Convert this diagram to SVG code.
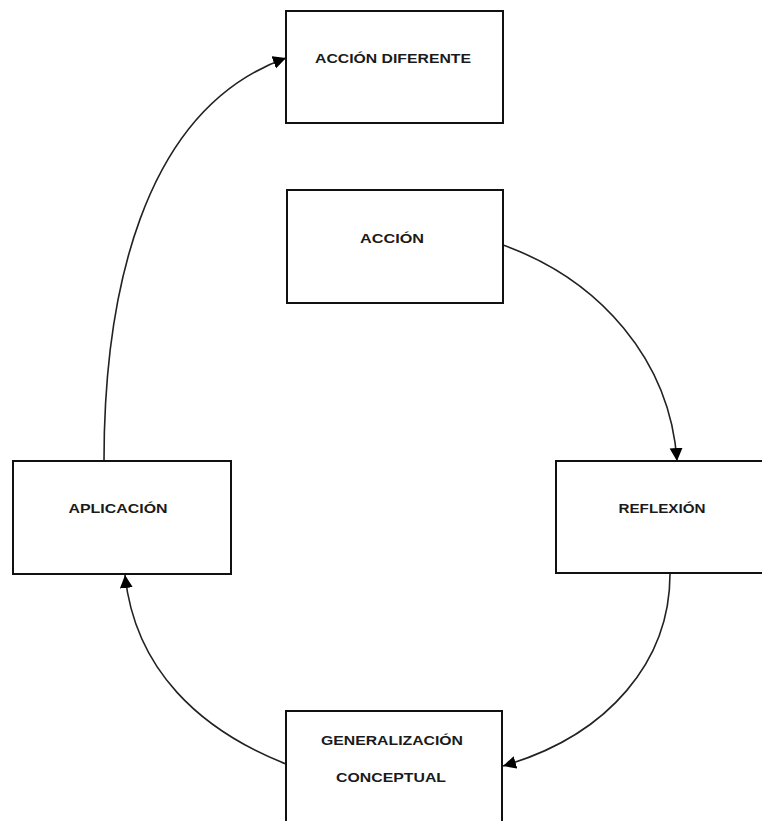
<svg xmlns="http://www.w3.org/2000/svg" width="762" height="821" viewBox="0 0 762 821">
<style>
.box{fill:#fff;stroke:#111;stroke-width:2}
.lbl{font-family:"Liberation Sans",Arial,sans-serif;font-weight:bold;font-size:13.5px;fill:#1a1a1a;text-anchor:middle}
.conn{fill:none;stroke:#222;stroke-width:1.6}
</style>
<defs>
<marker id="arr" markerUnits="userSpaceOnUse" markerWidth="15" markerHeight="15" refX="13" refY="6.5" orient="auto">
<path d="M0,0 L13,6.5 L0,13 Z" fill="#000"/>
</marker>
</defs>
<rect width="762" height="821" fill="#fff"/>
<g id="connectors">
<path class="conn" d="M503,245 C600,280 670,360 677,461" marker-end="url(#arr)"/>
<path class="conn" d="M670,574 C670,660 610,735 503,766" marker-end="url(#arr)"/>
<path class="conn" d="M286,764 C200,730 135,670 125,575" marker-end="url(#arr)"/>
<path class="conn" d="M104,461 C104,300 140,110 286,58" marker-end="url(#arr)"/>
</g>
<g id="accion-diferente">
<rect class="box" x="286" y="11" width="217" height="112"/>
<text class="lbl" x="393" y="63" textLength="156" lengthAdjust="spacingAndGlyphs">ACCIÓN DIFERENTE</text>
</g>
<g id="accion">
<rect class="box" x="287" y="190" width="216" height="113"/>
<text class="lbl" x="392" y="243" textLength="64" lengthAdjust="spacingAndGlyphs">ACCIÓN</text>
</g>
<g id="aplicacion">
<rect class="box" x="13" y="461" width="218" height="113"/>
<text class="lbl" x="118" y="513" textLength="99" lengthAdjust="spacingAndGlyphs">APLICACIÓN</text>
</g>
<g id="reflexion">
<rect class="box" x="556" y="461" width="220" height="112"/>
<text class="lbl" x="662" y="513" textLength="87" lengthAdjust="spacingAndGlyphs">REFLEXIÓN</text>
</g>
<g id="generalizacion">
<rect class="box" x="286" y="711" width="216" height="130"/>
<text class="lbl" x="392" y="745" textLength="142" lengthAdjust="spacingAndGlyphs">GENERALIZACIÓN</text>
<text class="lbl" x="391" y="782" textLength="110" lengthAdjust="spacingAndGlyphs">CONCEPTUAL</text>
</g>
</svg>
